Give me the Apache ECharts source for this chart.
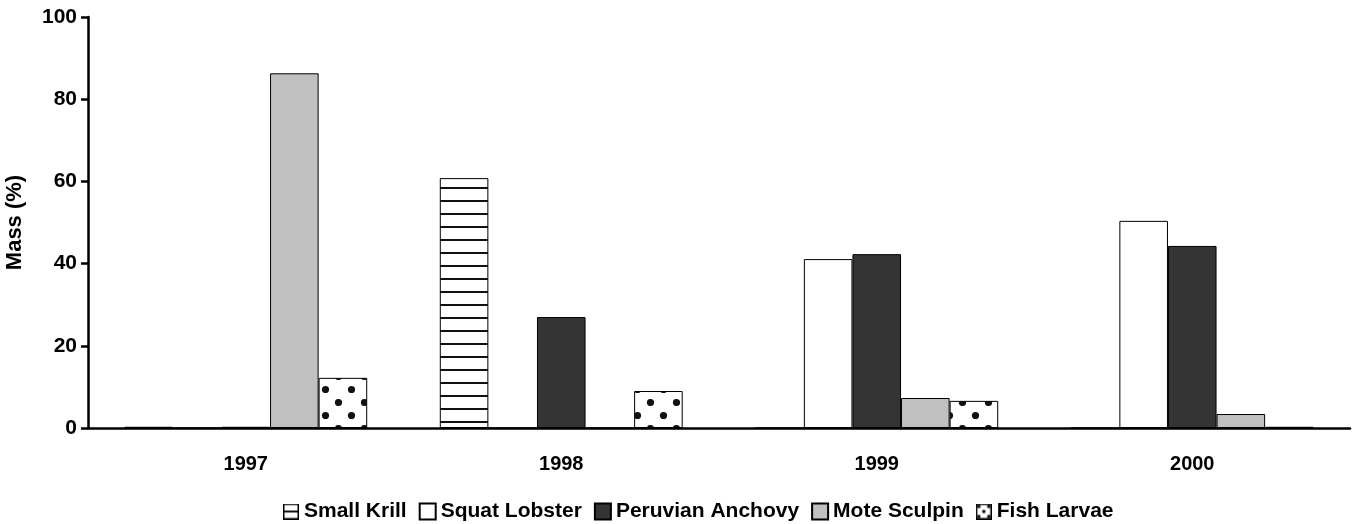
<!DOCTYPE html>
<html lang="en">
<head>
    <meta charset="UTF-8">
    <title>Mass (%)</title>
    <script src="https://cdn.jsdelivr.net/npm/echarts@6/dist/echarts.min.js"></script>
    <style>
        html, body { margin: 0; padding: 0; background: #ffffff; }
        #chart { width: 1353px; height: 524px; }
    </style>
</head>
<body>
    <div id="chart"></div>
<script>
    var categories = ['1997', '1998', '1999', '2000'];
    var smallKrill = [0.3, 60.8, 0, 0];
    var squatLobster = [0, 0, 41.1, 50.4];
    var peruvianAnchovy = [0.3, 27.0, 42.3, 44.3];
    var moteSculpin = [86.3, 0, 7.3, 3.4];
    var fishLarvae = [12.2, 9.0, 6.6, 0.3];
    var yTicks = [0, 20, 40, 60, 80, 100];

    var font = '"Liberation Sans", Arial, sans-serif';

    // krill = horizontal lines, larvae = dots (canvas patterns)
    function stripes() {
        var c = document.createElement('canvas');
        c.width = 10; c.height = 13;
        var ctx = c.getContext('2d');
        ctx.fillStyle = '#ffffff';
        ctx.fillRect(0, 0, 10, 13);
        ctx.fillStyle = '#111111';
        ctx.fillRect(0, 5, 10, 2);
        return c;
    }
    function dots() {
        var c = document.createElement('canvas');
        c.width = 26; c.height = 26;
        var ctx = c.getContext('2d');
        ctx.fillStyle = '#ffffff';
        ctx.fillRect(0, 0, 26, 26);
        ctx.fillStyle = '#111111';
        [[0.5, 12.5], [13.5, 25.5]].forEach(function (p) {
            for (var dx = -26; dx <= 26; dx += 26) {
                for (var dy = -26; dy <= 26; dy += 26) {
                    ctx.beginPath();
                    ctx.arc(p[0] + dx, p[1] + dy, 3.6, 0, Math.PI * 2);
                    ctx.fill();
                }
            }
        });
        return c;
    }

    // small legend icons for the two patterned series
    function legendIcon(kind) {
        var c = document.createElement('canvas');
        c.width = 16; c.height = 16;
        var ctx = c.getContext('2d');
        ctx.fillStyle = '#ffffff';
        ctx.fillRect(0, 0, 16, 16);
        ctx.fillStyle = '#111111';
        if (kind === 'lines') {
            ctx.fillRect(1, 7, 14, 2);
        } else {
            [[8, 8], [3, 3], [13, 3], [3, 13], [13, 13]].forEach(function (p) {
                ctx.beginPath();
                ctx.arc(p[0], p[1], 1.8, 0, Math.PI * 2);
                ctx.fill();
            });
        }
        ctx.strokeStyle = '#000000';
        ctx.lineWidth = 1.5;
        ctx.strokeRect(0.75, 0.75, 14.5, 14.5);
        return 'image://' + c.toDataURL();
    }

    function bar(name, data, color) {
        return {
            name: name,
            type: 'bar',
            data: data,
            barGap: '0%',
            barCategoryGap: '23%',
            itemStyle: { color: color, borderColor: '#000000', borderWidth: 1 }
        };
    }

    var chart = echarts.init(document.getElementById('chart'));
    chart.setOption({
        animation: false,
        textStyle: { fontFamily: font },
        grid: { left: 88, right: 3, top: 17, bottom: 96, containLabel: false, outerBoundsMode: 'none' },
        legend: {
            top: 496,
            left: 278,
            icon: 'rect',
            itemWidth: 16,
            itemHeight: 16,
            itemGap: 12,
            textStyle: { fontFamily: font, fontWeight: 'bold', fontSize: 21, color: '#000' },
            data: [
                { name: 'Small Krill', icon: legendIcon('lines') },
                'Squat Lobster',
                'Peruvian Anchovy',
                'Mote Sculpin',
                { name: 'Fish Larvae', icon: legendIcon('dots') }
            ]
        },
        xAxis: {
            type: 'category',
            data: categories,
            axisLine: { lineStyle: { color: '#000', width: 2.5 } },
            axisTick: { length: 8, lineStyle: { color: '#000', width: 2.5 } },
            axisLabel: { margin: 26, fontFamily: font, fontWeight: 'bold', fontSize: 20, color: '#000' }
        },
        yAxis: {
            type: 'value',
            min: yTicks[0],
            max: yTicks[yTicks.length - 1],
            interval: 20,
            name: 'Mass (%)',
            nameLocation: 'middle',
            nameGap: 62,
            nameTextStyle: { fontFamily: font, fontWeight: 'bold', fontSize: 22, color: '#000' },
            axisLine: { show: true, lineStyle: { color: '#000', width: 2.5 } },
            axisTick: { show: true, length: 7, lineStyle: { color: '#000', width: 2.5 } },
            axisLabel: { margin: 11, fontFamily: font, fontWeight: 'bold', fontSize: 21, color: '#000' },
            splitLine: { show: false }
        },
        series: [
            bar('Small Krill', smallKrill, { image: stripes(), repeat: 'repeat' }),
            bar('Squat Lobster', squatLobster, '#ffffff'),
            bar('Peruvian Anchovy', peruvianAnchovy, '#333433'),
            bar('Mote Sculpin', moteSculpin, '#c0c0c0'),
            bar('Fish Larvae', fishLarvae, { image: dots(), repeat: 'repeat' })
        ]
    });
</script>
</body>
</html>
